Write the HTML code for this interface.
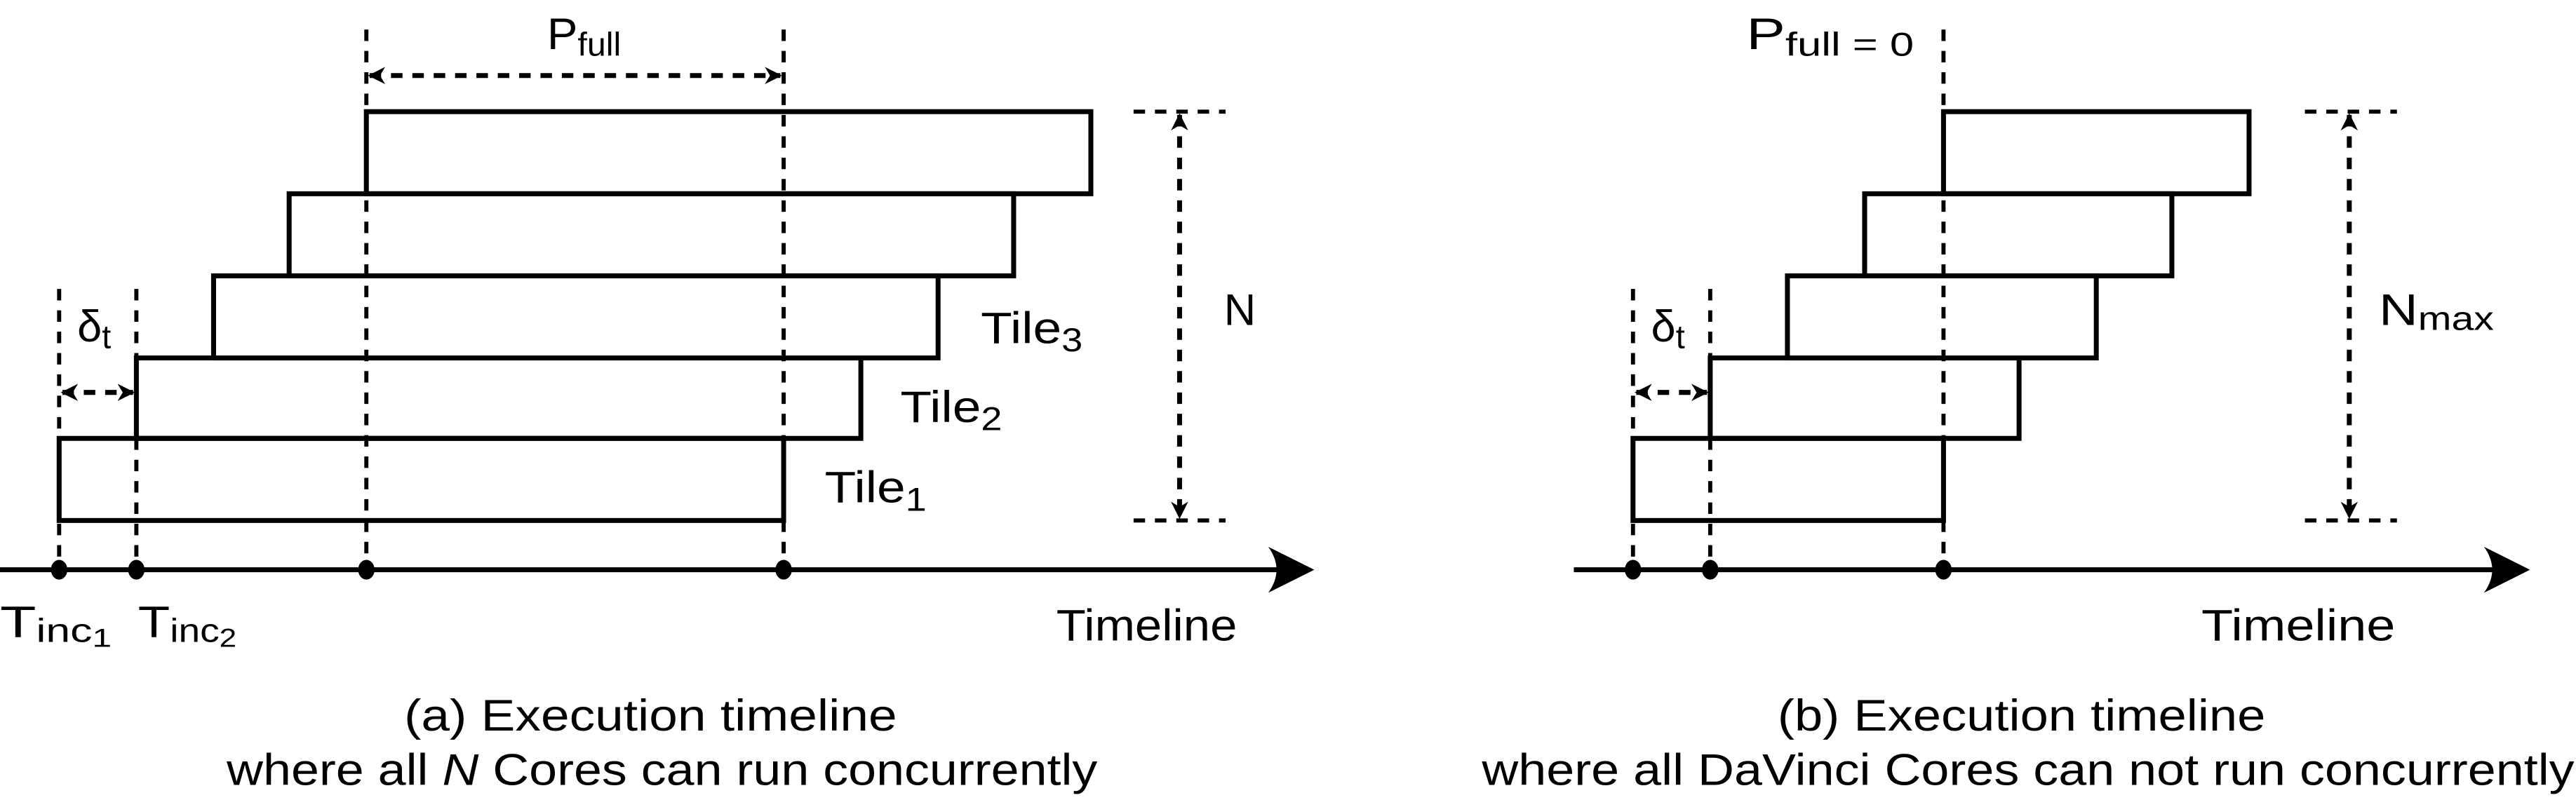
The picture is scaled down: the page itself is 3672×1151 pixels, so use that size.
<!DOCTYPE html>
<html><head><meta charset="utf-8"><style>
html,body{margin:0;padding:0;background:#fff;}
svg{display:block;}
text{font-family:"Liberation Sans",Arial,sans-serif;fill:#000;}
</style></head><body>
<svg width="3672" height="1151" viewBox="0 0 1568 491.5" preserveAspectRatio="none" xmlns="http://www.w3.org/2000/svg">
<defs>
<marker id="ah" viewBox="0 0 10 10" refX="9" refY="5" markerWidth="3.5" markerHeight="3.5" orient="auto-start-reverse">
<path d="M0,0 L10,5 L0,10 L3,5 Z" fill="#000"/>
</marker>
</defs>
<g fill="none" stroke="#000">
<g stroke-width="3">
<rect x="36" y="267" width="441" height="50"/>
<rect x="83" y="218" width="441" height="49"/>
<rect x="130" y="168" width="441" height="50"/>
<rect x="176" y="118" width="441" height="50"/>
<rect x="223" y="68" width="441" height="50"/>
<rect x="994" y="267" width="189" height="50"/>
<rect x="1041" y="218" width="188" height="49"/>
<rect x="1088" y="168" width="188" height="50"/>
<rect x="1135" y="118" width="187" height="50"/>
<rect x="1183" y="68" width="186" height="50"/>
<line x1="0" y1="347" x2="785" y2="347"/>
<line x1="958" y1="347" x2="1525" y2="347"/>
</g>
<g stroke-width="2.5" stroke-dasharray="7,6">
<line x1="223" y1="18" x2="223" y2="347"/>
<line x1="477" y1="18" x2="477" y2="347"/>
<line x1="36" y1="176" x2="36" y2="347"/>
<line x1="83" y1="176" x2="83" y2="347"/>
<line x1="1183" y1="18" x2="1183" y2="347"/>
<line x1="994" y1="176" x2="994" y2="347"/>
<line x1="1041" y1="176" x2="1041" y2="347"/>
<line x1="690" y1="68" x2="746" y2="68"/>
<line x1="690" y1="317" x2="746" y2="317"/>
<line x1="1403" y1="68" x2="1459" y2="68"/>
<line x1="1403" y1="317" x2="1459" y2="317"/>
</g>
<g stroke-width="3" stroke-dasharray="7,6">
<line x1="225" y1="46" x2="475" y2="46" marker-start="url(#ah)" marker-end="url(#ah)"/>
<line x1="38" y1="239" x2="81" y2="239" marker-start="url(#ah)" marker-end="url(#ah)"/>
<line x1="996" y1="239" x2="1039" y2="239" marker-start="url(#ah)" marker-end="url(#ah)"/>
<line x1="718" y1="70" x2="718" y2="315" marker-start="url(#ah)" marker-end="url(#ah)"/>
<line x1="1430" y1="70" x2="1430" y2="315" marker-start="url(#ah)" marker-end="url(#ah)"/>
</g>
</g>
<path d="M800,347 L772,333 Q782,347 772,361 Z" fill="#000"/>
<path d="M1540,347 L1512,333 Q1522,347 1512,361 Z" fill="#000"/>
<g fill="#000">
<ellipse cx="36" cy="347" rx="5" ry="6"/>
<ellipse cx="83" cy="347" rx="5" ry="6"/>
<ellipse cx="223" cy="347" rx="5" ry="6"/>
<ellipse cx="477" cy="347" rx="5" ry="6"/>
<ellipse cx="994" cy="347" rx="5" ry="6"/>
<ellipse cx="1041" cy="347" rx="5" ry="6"/>
<ellipse cx="1183" cy="347" rx="5" ry="6"/>
</g>
<g font-size="27">
<text x="333" y="30" textLength="45" lengthAdjust="spacingAndGlyphs">P<tspan font-size="20" dy="4">full</tspan></text>
<text x="1063" y="30" textLength="102" lengthAdjust="spacingAndGlyphs">P<tspan font-size="20" dy="4">full = 0</tspan></text>
<text x="47" y="208">δ<tspan font-size="20" dy="4">t</tspan></text>
<text x="1005" y="208">δ<tspan font-size="20" dy="4">t</tspan></text>
<text x="745" y="198">N</text>
<text x="1448" y="198" textLength="70" lengthAdjust="spacingAndGlyphs">N<tspan font-size="20" dy="3">max</tspan></text>
<text x="597" y="209" textLength="62" lengthAdjust="spacingAndGlyphs">Tile<tspan font-size="20" dy="5">3</tspan></text>
<text x="548" y="257" textLength="62" lengthAdjust="spacingAndGlyphs">Tile<tspan font-size="20" dy="5">2</tspan></text>
<text x="502" y="306" textLength="62" lengthAdjust="spacingAndGlyphs">Tile<tspan font-size="20" dy="5">1</tspan></text>
<text x="0" y="388" textLength="68" lengthAdjust="spacingAndGlyphs">T<tspan font-size="20" dy="3">inc</tspan><tspan font-size="16" dy="3">1</tspan></text>
<text x="84" y="388" textLength="60" lengthAdjust="spacingAndGlyphs">T<tspan font-size="20" dy="3">inc</tspan><tspan font-size="16" dy="3">2</tspan></text>
<text x="643" y="390" textLength="110" lengthAdjust="spacingAndGlyphs">Timeline</text>
<text x="1340" y="390" textLength="118" lengthAdjust="spacingAndGlyphs">Timeline</text>
<text x="246" y="445" textLength="300" lengthAdjust="spacingAndGlyphs">(a) Execution timeline</text>
<text x="138" y="478" textLength="530" lengthAdjust="spacingAndGlyphs">where all <tspan font-style="italic">N</tspan> Cores can run concurrently</text>
<text x="1082" y="445" textLength="297" lengthAdjust="spacingAndGlyphs">(b) Execution timeline</text>
<text x="902" y="478" textLength="665" lengthAdjust="spacingAndGlyphs">where all DaVinci Cores can not run concurrently</text>
</g>
</svg>
</body></html>
